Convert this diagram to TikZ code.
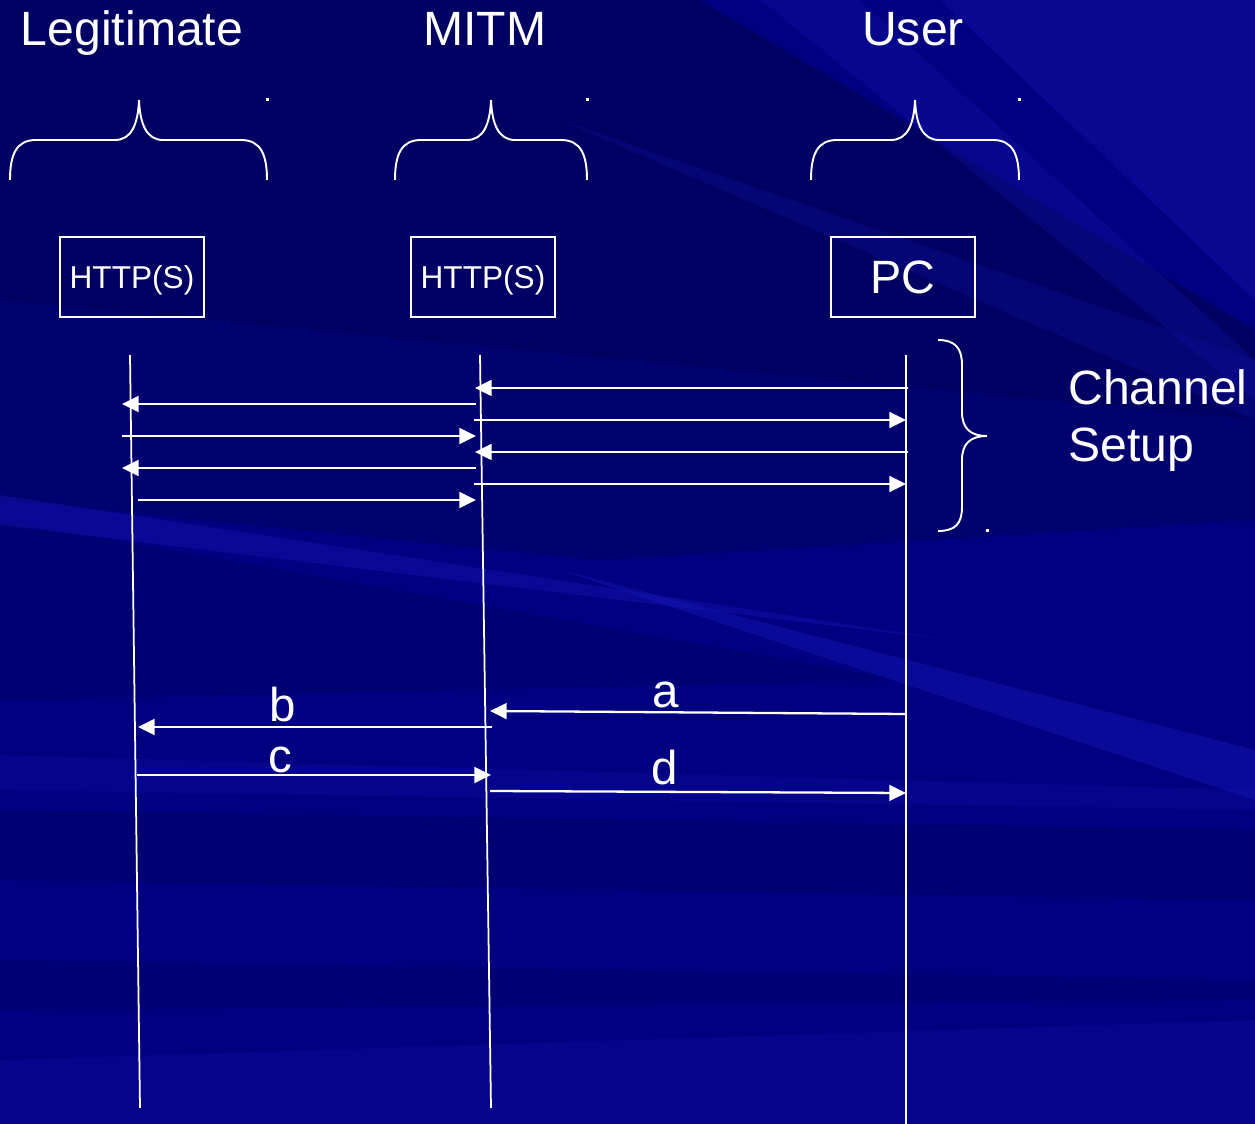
\documentclass[tikz,border=0pt]{standalone}
\usepackage{fontspec}
\setmainfont{Liberation Sans}
\usetikzlibrary{arrows.meta}
\definecolor{bgbase}{RGB}{0,0,128}
\definecolor{bgdark}{RGB}{0,0,90}
\definecolor{bglight}{RGB}{20,20,175}
\tikzset{
  lifeline/.style={draw=white, line width=1pt},
  msg/.style={draw=white, line width=1.3pt, -{Triangle[length=9.5pt,width=9pt]}},
  boxnode/.style={draw=white, line width=0.9pt, minimum width=144*0.02cm, minimum height=80*0.02cm, inner sep=0pt, text=white},
  title/.style={text=white, font=\fontsize{27.4pt}{32pt}\selectfont, anchor=base, inner sep=0pt},
  lbl/.style={text=white, font=\fontsize{27pt}{32pt}\selectfont, anchor=base, inner sep=0pt},
  bracepath/.style={draw=white, line width=1.1pt},
  tinydot/.style={fill=white, minimum size=3*0.02cm, inner sep=0pt},
}
\newcommand\mytopbrace[3]{%
  \draw[bracepath] (#1,180) .. controls (#1,155) and ({#1+6},140) .. ({#1+26},140)
    -- ({#2-24},140) .. controls ({#2-8},140) and ({#2-1},125) .. (#2,100)
    .. controls ({#2+1},125) and ({#2+8},140) .. ({#2+24},140)
    -- ({#3-26},140) .. controls ({#3-6},140) and (#3,155) .. (#3,180);}
\begin{document}
\begin{tikzpicture}[x=0.02cm,y=-0.02cm]
\useasboundingbox (0,0) rectangle (1255,1124);
% background
\fill[bgbase] (0,0) rectangle (1255,1124);
\fill[bgdark, opacity=0.75] (0,0) -- (700,0) -- (1255,330) -- (1255,420) -- (0,300) -- cycle;
\fill[bgdark, opacity=0.45] (0,300) -- (1255,420) -- (1255,520) -- (600,560) -- (0,500) -- cycle;
\fill[bgdark, opacity=0.35] (0,520) -- (900,680) -- (0,700) -- cycle;
\fill[bglight, opacity=0.4] (940,0) -- (1255,0) -- (1255,300) -- cycle;
\fill[bglight, opacity=0.3] (760,0) -- (860,0) -- (1255,360) -- (1255,400) -- cycle;
\fill[bglight, opacity=0.25] (560,120) -- (1255,360) -- (1255,420) -- cycle;
\fill[bglight, opacity=0.45] (0,495) -- (950,640) -- (0,525) -- cycle;
\fill[bglight, opacity=0.55] (560,570) -- (1255,750) -- (1255,800) -- cycle;
\fill[bglight, opacity=0.25] (0,755) -- (1255,790) -- (1255,810) -- (0,790) -- cycle;
\fill[bgdark, opacity=0.35] (0,810) -- (1255,830) -- (1255,900) -- (0,880) -- cycle;
\fill[bgdark, opacity=0.3] (0,960) -- (1255,980) -- (1255,1000) -- (0,1010) -- cycle;
\fill[bglight, opacity=0.25] (0,1060) -- (1255,1020) -- (1255,1124) -- (0,1124) -- cycle;

% titles
\node[title] (tL) at (132,46) {Legitimate};
\node[title] (tM) at (485,46) {MITM};
\node[title] (tU) at (913,46) {User};

% top braces
\mytopbrace{10}{139}{267}
\mytopbrace{395}{491}{587}
\mytopbrace{811}{915}{1019}
\node[tinydot] (d1) at (267,100) {};
\node[tinydot] (d2) at (587,100) {};
\node[tinydot] (d3) at (1019,100) {};

% boxes
\node[boxnode, font=\fontsize{18pt}{21pt}\selectfont, text height=12.9pt, text depth=0pt] (bL) at (132,277) {HTTP(S)};
\node[boxnode, font=\fontsize{18pt}{21pt}\selectfont, text height=12.9pt, text depth=0pt] (bM) at (483,277) {HTTP(S)};
\node[boxnode, font=\fontsize{26.6pt}{32pt}\selectfont, text height=19pt, text depth=0pt] (bU) at (903,277) {PC};

% lifelines
\coordinate (L1) at (130,355); \coordinate (L2) at (140,1108);
\coordinate (M1) at (480,355); \coordinate (M2) at (491,1108);
\coordinate (U1) at (906,355); \coordinate (U2) at (906,1124);
\draw[lifeline] (L1) -- (L2);
\draw[lifeline] (M1) -- (M2);
\draw[lifeline] (U1) -- (U2);

% channel setup arrows (middle - right)
\coordinate (r1s) at (908,388); \coordinate (r1e) at (475,388);
\coordinate (r2s) at (474,420); \coordinate (r2e) at (906,420);
\coordinate (r3s) at (908,452); \coordinate (r3e) at (475,452);
\coordinate (r4s) at (474,484); \coordinate (r4e) at (906,484);
\draw[msg] (r1s) -- (r1e);
\draw[msg] (r2s) -- (r2e);
\draw[msg] (r3s) -- (r3e);
\draw[msg] (r4s) -- (r4e);
% channel setup arrows (left - middle)
\coordinate (l1s) at (476,404); \coordinate (l1e) at (122,404);
\coordinate (l2s) at (122,436); \coordinate (l2e) at (476,436);
\coordinate (l3s) at (476,468); \coordinate (l3e) at (122,468);
\coordinate (l4s) at (138,500); \coordinate (l4e) at (476,500);
\draw[msg] (l1s) -- (l1e);
\draw[msg] (l2s) -- (l2e);
\draw[msg] (l3s) -- (l3e);
\draw[msg] (l4s) -- (l4e);

% channel setup brace and label
\draw[bracepath] (938,340) .. controls (955,340) and (962,348) .. (962,365) -- (962,412)
  .. controls (962,428) and (970,436) .. (987,436)
  .. controls (970,436) and (962,444) .. (962,460) -- (962,507)
  .. controls (962,524) and (955,531) .. (938,531);
\node[tinydot] (d4) at (987,531) {};
\node[title, anchor=base west] (cs1) at (1068,405) {Channel};
\node[title, anchor=base west] (cs2) at (1068,462) {Setup};

% lower messages
\coordinate (as) at (906,714); \coordinate (ae) at (490,711);
\coordinate (bs) at (492,727); \coordinate (be) at (138,727);
\coordinate (cs) at (137,775); \coordinate (ce) at (491,775);
\coordinate (ds) at (490,791); \coordinate (de) at (906,793);
\draw[msg] (as) -- (ae);
\draw[msg] (bs) -- (be);
\draw[msg] (cs) -- (ce);
\draw[msg] (ds) -- (de);
\node[lbl] (la) at (666,708) {a};
\node[lbl] (lb) at (283,722) {b};
\node[lbl] (lc) at (280,773) {c};
\node[lbl] (ld) at (665,785) {d};
\end{tikzpicture}
\end{document}
